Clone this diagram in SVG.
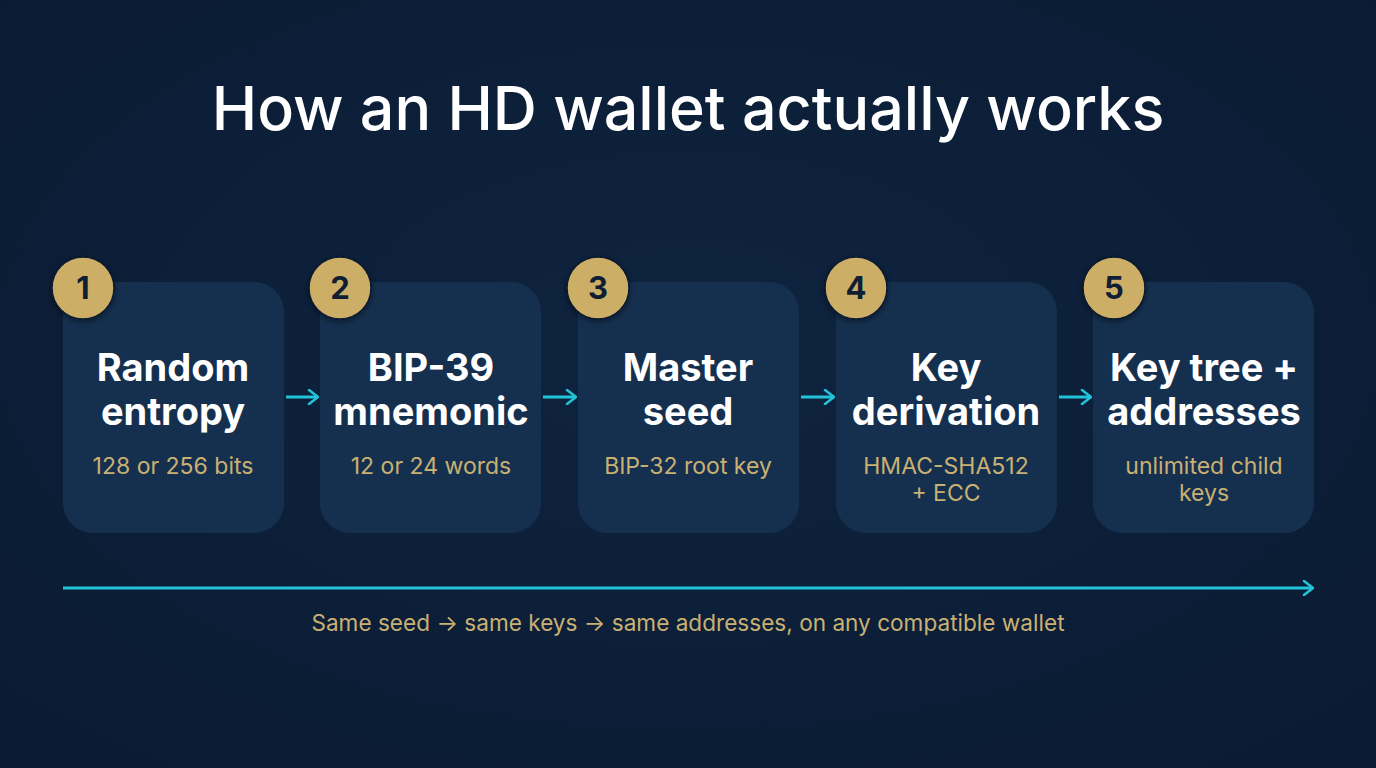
<svg xmlns="http://www.w3.org/2000/svg" width="1376" height="768" viewBox="0 0 1376 768">
<defs>
<radialGradient id="bg" cx="50%" cy="45%" r="75%">
<stop offset="0" stop-color="#0f2440"/>
<stop offset="1" stop-color="#0a1a31"/>
</radialGradient>
<filter id="sh" x="-20%" y="-20%" width="140%" height="140%">
<feDropShadow dx="0" dy="2" stdDeviation="3" flood-color="#000" flood-opacity="0.45"/>
</filter>
<marker id="chev" viewBox="0 0 12 16" refX="11" refY="8" markerWidth="12" markerHeight="16" markerUnits="userSpaceOnUse" orient="auto">
<path d="M2 1 L11 8 L2 15" fill="none" stroke="#22c3d8" stroke-width="2.6" stroke-linecap="round" stroke-linejoin="round"/>
</marker>
<style>
.box{fill:#15304f;}
.badge{fill:#cdae66;stroke:#0a1a30;stroke-width:1.5;}
.num{font-family:Inter,"Liberation Sans",sans-serif;font-weight:700;font-size:31px;fill:#0f1e33;text-anchor:middle;}
.ttl{font-family:Inter,"Liberation Sans",sans-serif;font-weight:700;font-size:38px;fill:#ffffff;text-anchor:middle;}
.sub{font-family:Inter,"Liberation Sans",sans-serif;font-weight:400;font-size:23px;fill:#c9b073;text-anchor:middle;}
.conn{stroke:#22c3d8;stroke-width:3;fill:none;}
</style>
</defs>
<rect width="1376" height="768" fill="url(#bg)"/>
<text x="688" y="130" font-family="Inter,'Liberation Sans',sans-serif" font-weight="500" font-size="61" fill="#ffffff" text-anchor="middle">How an HD wallet actually works</text>

<g id="connectors">
<line class="conn" x1="286" y1="397" x2="318" y2="397" marker-end="url(#chev)"/>
<line class="conn" x1="543" y1="397" x2="576" y2="397" marker-end="url(#chev)"/>
<line class="conn" x1="801" y1="397" x2="834" y2="397" marker-end="url(#chev)"/>
<line class="conn" x1="1059" y1="397" x2="1091" y2="397" marker-end="url(#chev)"/>
<line class="conn" x1="63" y1="588" x2="1313" y2="588" marker-end="url(#chev)"/>
</g>

<g id="step1">
<rect class="box" x="63" y="282" width="221" height="251" rx="30"/>
<circle class="badge" cx="83" cy="288" r="31" filter="url(#sh)"/>
<text class="num" x="83" y="299">1</text>
<text class="ttl" x="173" y="381">Random</text>
<text class="ttl" x="173" y="425">entropy</text>
<text class="sub" x="173" y="474">128 or 256 bits</text>
</g>
<g id="step2">
<rect class="box" x="320" y="282" width="221" height="251" rx="30"/>
<circle class="badge" cx="340" cy="288" r="31" filter="url(#sh)"/>
<text class="num" x="340" y="299">2</text>
<text class="ttl" x="431" y="381">BIP-39</text>
<text class="ttl" x="431" y="425">mnemonic</text>
<text class="sub" x="431" y="474">12 or 24 words</text>
</g>
<g id="step3">
<rect class="box" x="578" y="282" width="221" height="251" rx="30"/>
<circle class="badge" cx="598" cy="288" r="31" filter="url(#sh)"/>
<text class="num" x="598" y="299">3</text>
<text class="ttl" x="688" y="381">Master</text>
<text class="ttl" x="688" y="425">seed</text>
<text class="sub" x="688" y="474">BIP-32 root key</text>
</g>
<g id="step4">
<rect class="box" x="836" y="282" width="221" height="251" rx="30"/>
<circle class="badge" cx="856" cy="288" r="31" filter="url(#sh)"/>
<text class="num" x="856" y="299">4</text>
<text class="ttl" x="946" y="381">Key</text>
<text class="ttl" x="946" y="425">derivation</text>
<text class="sub" x="946" y="474">HMAC-SHA512</text>
<text class="sub" x="946" y="501">+ ECC</text>
</g>
<g id="step5">
<rect class="box" x="1093" y="282" width="221" height="251" rx="30"/>
<circle class="badge" cx="1114" cy="288" r="31" filter="url(#sh)"/>
<text class="num" x="1114" y="299">5</text>
<text class="ttl" x="1204" y="381">Key tree +</text>
<text class="ttl" x="1204" y="425">addresses</text>
<text class="sub" x="1204" y="474">unlimited child</text>
<text class="sub" x="1204" y="501">keys</text>
</g>

<text x="688" y="631" font-family="Inter,'Liberation Sans',sans-serif" font-size="22.6" fill="#c9b073" text-anchor="middle">Same seed → same keys → same addresses, on any compatible wallet</text>
</svg>
